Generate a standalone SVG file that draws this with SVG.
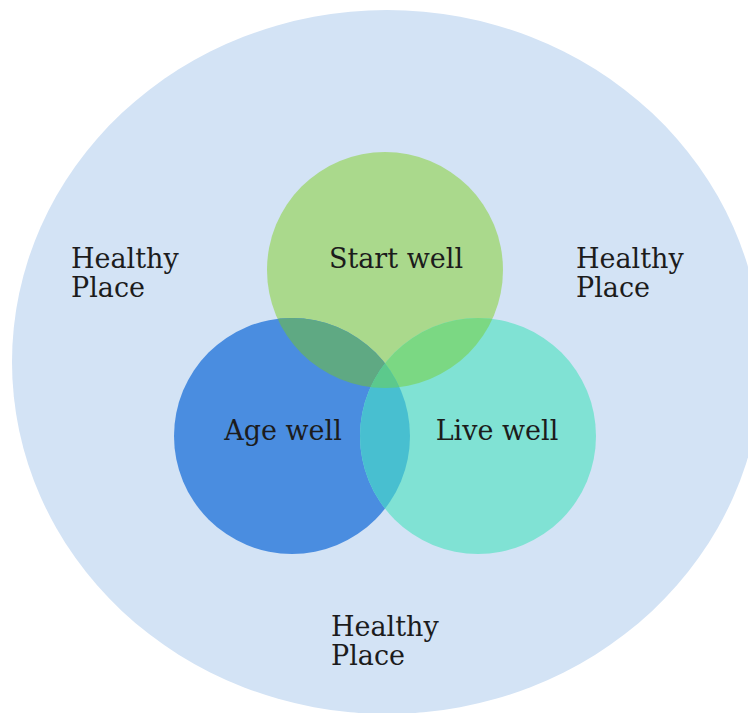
<svg xmlns="http://www.w3.org/2000/svg" xmlns:xlink="http://www.w3.org/1999/xlink" width="748" height="713" viewBox="0 0 748 713">
<style>
  .lbl { font-family: "DejaVu Serif", "Liberation Serif", serif; font-size: 27px; fill: #1c1c1c; }
  .mid { text-anchor: middle; }
</style>
<defs>
  <clipPath id="clipA"><circle cx="385" cy="270" r="118"/></clipPath>
  <clipPath id="clipB"><circle cx="292" cy="436" r="118"/></clipPath>
  <clipPath id="clipC"><circle cx="478" cy="436" r="118"/></clipPath>
</defs>
<rect width="748" height="713" fill="#ffffff"/>
<g id="healthy-place">
  <ellipse cx="387" cy="362" rx="375" ry="352" fill="#d3e3f5"/>
  <text class="lbl" x="71" y="268">Healthy</text>
  <text class="lbl" x="71" y="297">Place</text>
  <text class="lbl" x="576" y="268">Healthy</text>
  <text class="lbl" x="576" y="297">Place</text>
  <text class="lbl" x="331" y="636">Healthy</text>
  <text class="lbl" x="331" y="665">Place</text>
</g>
<g id="start-well">
  <circle cx="385" cy="270" r="118" fill="#aad98c"/>
</g>
<g id="age-well">
  <circle cx="292" cy="436" r="118" fill="#4a8de0"/>
</g>
<g id="live-well">
  <circle cx="478" cy="436" r="118" fill="#80e2d4"/>
</g>
<g id="overlaps">
  <g clip-path="url(#clipA)"><circle cx="292" cy="436" r="118" fill="#5fa983"/></g>
  <g clip-path="url(#clipA)"><circle cx="478" cy="436" r="118" fill="#7bd883"/></g>
  <g clip-path="url(#clipB)"><circle cx="478" cy="436" r="118" fill="#48bfd0"/></g>
  <g clip-path="url(#clipA)"><g clip-path="url(#clipB)"><circle cx="478" cy="436" r="118" fill="#5cc98c"/></g></g>
</g>
<g id="labels">
  <text class="lbl mid" x="396" y="268">Start well</text>
  <text class="lbl mid" x="283" y="440">Age well</text>
  <text class="lbl mid" x="497" y="440">Live well</text>
</g>
</svg>
